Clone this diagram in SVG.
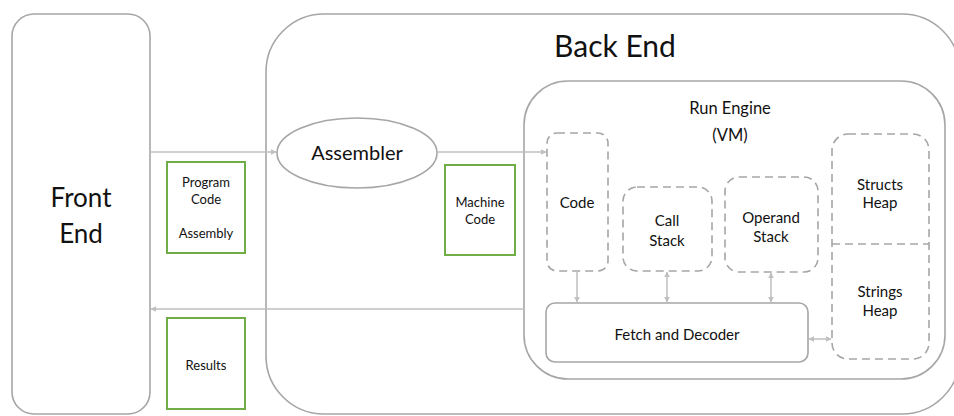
<svg xmlns="http://www.w3.org/2000/svg" width="954" height="416" viewBox="0 0 954 416">
  <style>
    text { font-family: "Lato", "Open Sans", sans-serif; fill: #111111; text-anchor: middle; }
    .outline { fill: #ffffff; stroke: #a6a6a6; stroke-width: 1.6; }
    .dashed { fill: #ffffff; stroke: #a6a6a6; stroke-width: 1.6; stroke-dasharray: 8 5; }
    .data { fill: #ffffff; stroke: #70ad47; stroke-width: 2; }
    .conn { fill: none; stroke: #bfbfbf; stroke-width: 1.5; }
    .big { font-size: 30px; }
    .fe { font-size: 26px; }
    .asm { font-size: 20px; }
    .re { font-size: 16.5px; }
    .lbl { font-size: 15px; }
    .small { font-size: 13px; }
  </style>
  <defs>
    <marker id="head" viewBox="0 0 10 10" refX="9" refY="5" markerWidth="6" markerHeight="6" orient="auto-start-reverse" markerUnits="userSpaceOnUse">
      <path d="M0,0 L10,5 L0,10 z" fill="#bfbfbf"/>
    </marker>
  </defs>

  <!-- Front end -->
  <g id="front-end">
    <rect class="outline" x="12" y="14" width="138" height="400" rx="22"/>
    <text class="fe" x="81" y="207">Front</text>
    <text class="fe" x="81" y="243">End</text>
  </g>

  <!-- Back end container (right edge runs past the canvas) -->
  <g id="back-end">
    <rect class="outline" x="266" y="14" width="694" height="400" rx="58"/>
    <text class="big" x="615" y="57">Back End</text>
  </g>

  <g id="assembler">
    <ellipse class="outline" cx="357" cy="153" rx="80" ry="35"/>
    <text class="asm" x="357" y="160">Assembler</text>
  </g>

  <!-- Run engine -->
  <g id="run-engine">
    <rect class="outline" x="524" y="81" width="421" height="298" rx="44"/>
    <text class="re" x="730" y="114">Run Engine</text>
    <text class="re" x="730" y="141">(VM)</text>
  </g>

  <g id="code">
    <rect class="dashed" x="547" y="133" width="61" height="138" rx="10"/>
    <text class="lbl" x="577" y="208">Code</text>
  </g>

  <g id="call-stack">
    <rect class="dashed" x="623" y="187" width="89" height="84" rx="14"/>
    <text class="lbl" x="667" y="226">Call</text>
    <text class="lbl" x="667" y="246">Stack</text>
  </g>

  <g id="operand-stack">
    <rect class="dashed" x="725" y="177" width="93" height="95" rx="14"/>
    <text class="lbl" x="771" y="223">Operand</text>
    <text class="lbl" x="771" y="242">Stack</text>
  </g>

  <g id="heap">
    <rect class="dashed" x="832" y="134" width="97" height="225" rx="16"/>
    <line class="dashed" x1="832" y1="244" x2="929" y2="244"/>
    <text class="lbl" x="880" y="190">Structs</text>
    <text class="lbl" x="880" y="208">Heap</text>
    <text class="lbl" x="880" y="297">Strings</text>
    <text class="lbl" x="880" y="316">Heap</text>
  </g>

  <g id="fetch-decoder">
    <rect class="outline" x="546" y="303" width="262" height="59" rx="9"/>
    <text class="lbl" x="677" y="340">Fetch and Decoder</text>
  </g>

  <!-- Data items passed between stages -->
  <g id="program-code">
    <rect class="data" x="167" y="162" width="78" height="91"/>
    <text class="small" x="206" y="187">Program</text>
    <text class="small" x="206" y="204">Code</text>
    <text class="small" x="206" y="238">Assembly</text>
  </g>

  <g id="machine-code">
    <rect class="data" x="445" y="165" width="70" height="90"/>
    <text class="small" x="480" y="207">Machine</text>
    <text class="small" x="480" y="224">Code</text>
  </g>

  <g id="results">
    <rect class="data" x="167" y="318" width="78" height="91"/>
    <text class="small" x="206" y="370">Results</text>
  </g>

  <!-- Connectors -->
  <g id="connectors">
    <line class="conn" x1="150" y1="152" x2="276" y2="152" marker-end="url(#head)"/>
    <line class="conn" x1="437" y1="152" x2="546" y2="152" marker-end="url(#head)"/>
    <line class="conn" x1="524" y1="309" x2="151" y2="309" marker-end="url(#head)"/>
    <line class="conn" x1="577" y1="271" x2="577" y2="302" marker-end="url(#head)"/>
    <line class="conn" x1="667" y1="272" x2="667" y2="302" marker-start="url(#head)" marker-end="url(#head)"/>
    <line class="conn" x1="771" y1="273" x2="771" y2="302" marker-start="url(#head)" marker-end="url(#head)"/>
    <line class="conn" x1="809" y1="339" x2="831" y2="339" marker-start="url(#head)" marker-end="url(#head)"/>
  </g>
</svg>
